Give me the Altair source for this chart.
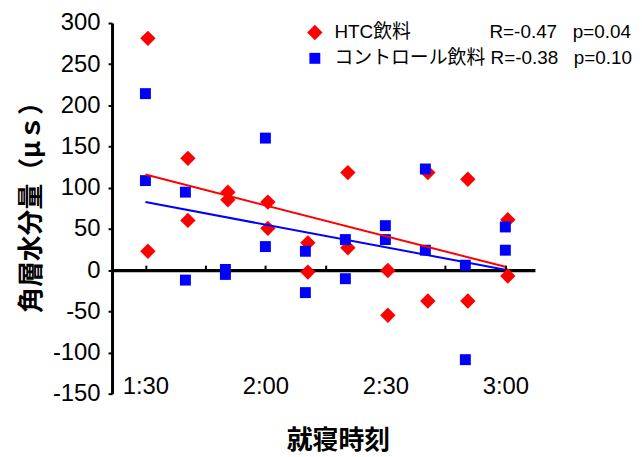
import altair as alt
import pandas as pd

# ---- data ----
times = ["1:30", "1:40", "1:50", "2:00", "2:10", "2:20", "2:30", "2:40", "2:50", "3:00"]
htc_a = [281.4, 135.7, 94.7, 82.6, 33.1, 118.4, -0.4, 118.4, 110.4, 61.2]
htc_b = [22.9, 60.4, 85.4, 50.7, -2.4, 27.1, -54.7, -37.4, -37.4, -7.2]
ctrl_a = [214.3, 94.7, 0.8, 160.3, 22.9, 37.1, 54.0, 122.8, 6.0, 52.4]
ctrl_b = [108.7, -12.1, -5.2, 28.6, -27.3, -10.4, 37.1, 24.2, -108.7, 24.2]

trend_times = ["1:30", "3:00"]
htc_trend = [116.0, 4.0]
ctrl_trend = [82.6, 0.5]

series_names = ["HTC飲料", "コントロール飲料"]
series_stats = ["R=-0.47   p=0.04", "R=-0.38   p=0.10"]
x_tick_labels = ["1:30", "2:00", "2:30", "3:00"]
x_minor_ticks = ["1:30", "1:45", "2:00", "2:15", "2:30", "2:45", "3:00"]
y_ticks = [-150, -100, -50, 0, 50, 100, 150, 200, 250, 300]


def to_min(s):
    h, m = s.split(":")
    return int(h) * 60 + int(m)


NB = "\u00a0"
legend_labels = [
    series_names[0] + NB * 15 + series_stats[0].replace(" ", NB),
    series_names[1] + NB + series_stats[1].replace(" ", NB),
]

red_df = pd.DataFrame({
    "t": [to_min(t) for t in times] * 2,
    "v": htc_a + htc_b,
    "series": series_names[0],
})
blue_df = pd.DataFrame({
    "t": [to_min(t) for t in times] * 2,
    "v": ctrl_a + ctrl_b,
    "series": series_names[1],
})
red_trend_df = pd.DataFrame({"t": [to_min(t) for t in trend_times], "v": htc_trend})
blue_trend_df = pd.DataFrame({"t": [to_min(t) for t in trend_times], "v": ctrl_trend})

LAT = "Liberation Sans, Noto Sans CJK JP"
CJK = "Noto Sans CJK JP, Liberation Sans"

W, H = 425.6, 373
x_dom = [81.65, 187.4]
y_dom = [-150, 300]
zero_off = -(H * (y_dom[1] - 0) / (y_dom[1] - y_dom[0]))

x_scale = alt.Scale(domain=x_dom, nice=False, zero=False)
y_scale = alt.Scale(domain=y_dom, nice=False, zero=False)

tick_vals = [to_min(t) for t in x_tick_labels]
label_expr_x = "[" + ",".join("'%s'" % s for s in x_tick_labels) + "][indexof([" + ",".join(str(v) for v in tick_vals) + "], datum.value)]"

x_bottom = alt.X("t:Q", scale=x_scale, axis=alt.Axis(
    orient="bottom", values=tick_vals, labelExpr=label_expr_x,
    domain=False, ticks=False, tickSize=0, grid=False,
    labelFont=LAT, labelFontSize=24, labelColor="black",
    labelBaseline="alphabetic", labelPadding=0,
    title="就寝時刻", titleFont=CJK, titleFontSize=26, titleFontWeight="bold",
    titleColor="black", titleX=227.3, titleY=47.5, titleBaseline="middle", titleAlign="center",
))
x_top = alt.X("t:Q", scale=x_scale, axis=alt.Axis(
    orient="top", offset=zero_off, values=[to_min(t) for t in x_minor_ticks],
    labels=False, domain=True, domainColor="black", domainWidth=3.5,
    ticks=True, tickColor="black", tickSize=5, tickWidth=2, grid=False, title=None,
))
x_none = alt.X("t:Q", scale=x_scale, axis=None)

y_enc = alt.Y("v:Q", scale=y_scale, axis=alt.Axis(
    values=y_ticks, labelExpr="'' + datum.value", grid=False,
    domain=True, domainColor="black", domainWidth=3,
    ticks=True, tickColor="black", tickSize=4, tickWidth=2,
    labelFont=LAT, labelFontSize=24, labelColor="black", labelPadding=8,
    title="角層水分量（μｓ）", titleFont=CJK, titleFontSize=26, titleFontWeight="bold",
    titleColor="black", titleAngle=270, titleX=-80.7, titleY=178.6,
    titleBaseline="middle", titleAlign="center",
))

legend = alt.Legend(
    title=None, orient="none", legendX=194.6, legendY=0, padding=0,
    labelFont=LAT, labelFontSize=19, labelColor="black", labelLimit=0,
    labelOffset=10.2, rowPadding=6, symbolStrokeWidth=0,
    labelExpr="[" + ",".join("'%s'" % s for s in legend_labels) + "][indexof([" + ",".join("'%s'" % s for s in series_names) + "], datum.value)]",
)
color = alt.Color("series:N", scale=alt.Scale(domain=series_names, range=["#ff0000", "#0000ff"]), legend=legend)
shape = alt.Shape("series:N", scale=alt.Scale(domain=series_names, range=["diamond", "square"]), legend=legend)
size = alt.Size("series:N", scale=alt.Scale(domain=series_names, range=[240, 121]), legend=legend)

red_pts = alt.Chart(red_df).mark_point(filled=True, opacity=1, xOffset=2.5).encode(
    x=x_bottom, y=y_enc, color=color, shape=shape, size=size)
blue_pts = alt.Chart(blue_df).mark_point(filled=True, opacity=1).encode(
    x=x_none, y=y_enc, color=color, shape=shape, size=size)
red_line = alt.Chart(red_trend_df).mark_line(color="#ff0000", strokeWidth=2).encode(x=x_top, y=y_enc)
blue_line = alt.Chart(blue_trend_df).mark_line(color="#0000ff", strokeWidth=2).encode(x=x_none, y=y_enc)

chart = alt.layer(red_pts, blue_pts, red_line, blue_line).resolve_axis(x="independent").properties(
    width=W, height=H,
    autosize=alt.AutoSizeParams(type="none"),
    padding={"left": 104.7, "top": 13.7, "right": 99.7, "bottom": 62.3},
    background="white",
).configure_view(stroke=None)

chart.save("out.html", embed_options={"renderer": "svg", "actions": False})
